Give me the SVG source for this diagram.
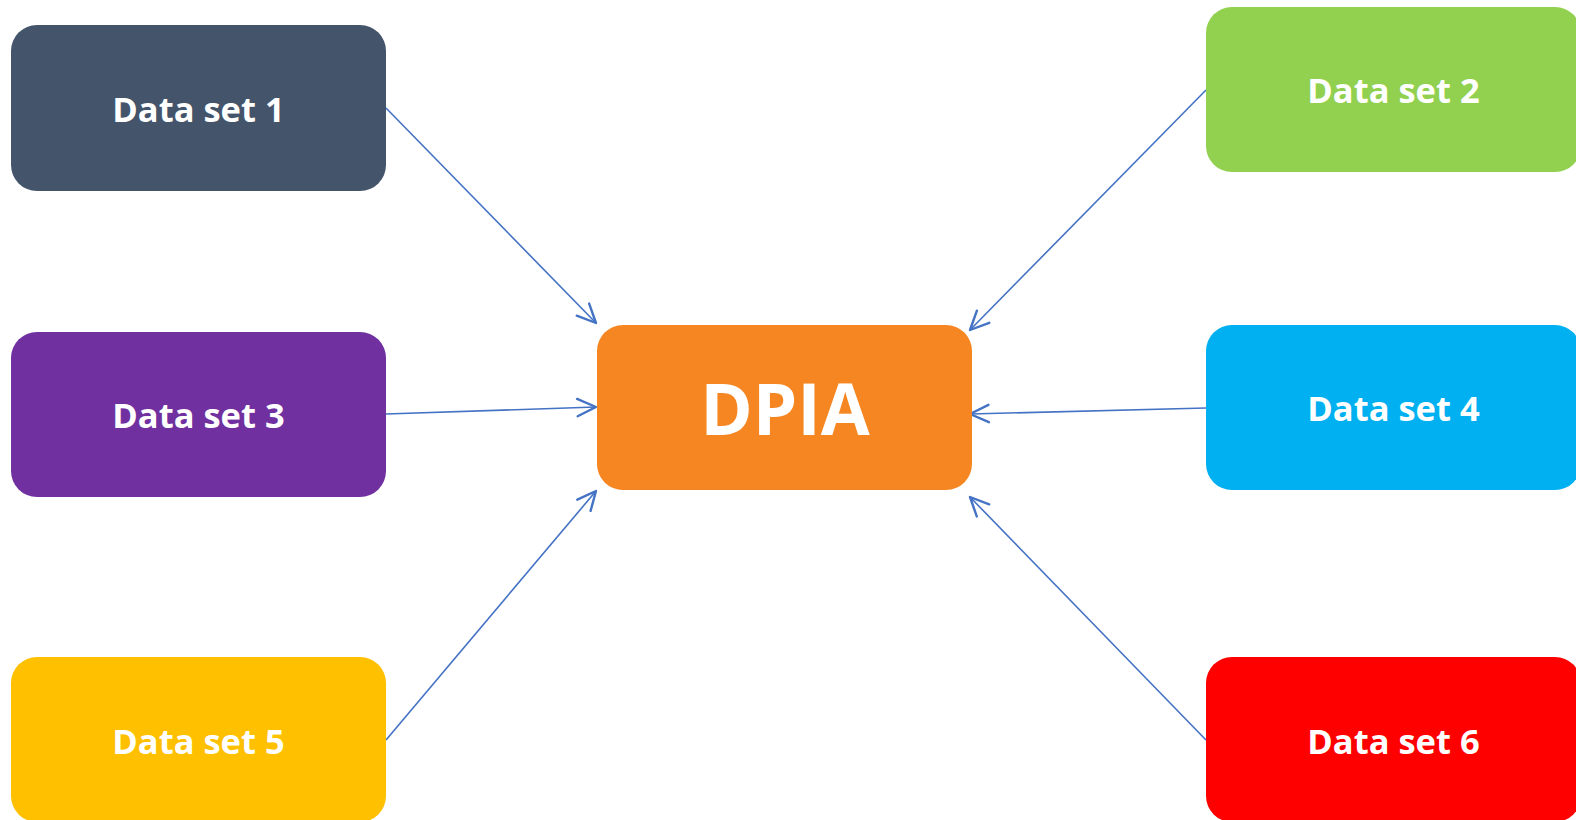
<svg xmlns="http://www.w3.org/2000/svg" width="1576" height="820" viewBox="0 0 1576 820">
<style>
.lbl{font-family:"Open Sans","Liberation Sans",sans-serif;font-weight:bold;fill:#FFFFFF;text-anchor:middle;font-size:34.5px}
.big{font-size:71px}
.conn{stroke:#4472C4;stroke-width:1.6;fill:none;marker-end:url(#arr)}
</style>
<defs>
<marker id="arr" markerUnits="userSpaceOnUse" markerWidth="24" markerHeight="24" refX="16" refY="8" orient="auto" viewBox="0 0 18 16">
<path d="M2,1.5 L16,8 L2,14.5" fill="none" stroke="#4472C4" stroke-width="1.8" stroke-linecap="round" stroke-linejoin="round"/>
</marker>
</defs>
<rect width="1576" height="820" fill="#FFFFFF"/>
<g id="connectors">
<line class="conn" x1="386" y1="108" x2="596" y2="323"/>
<line class="conn" x1="1206" y1="90" x2="970" y2="330"/>
<line class="conn" x1="386" y1="414" x2="596" y2="407"/>
<line class="conn" x1="1206" y1="408" x2="970" y2="414"/>
<line class="conn" x1="386" y1="740" x2="596" y2="491"/>
<line class="conn" x1="1206" y1="740" x2="970" y2="497"/>
</g>
<g id="ds1"><rect x="11" y="25" width="375" height="166" rx="26" fill="#44546A"/><text class="lbl" x="198.5" y="122">Data set 1</text></g>
<g id="ds2"><rect x="1206" y="7" width="375" height="165" rx="26" fill="#92D050"/><text class="lbl" x="1393.5" y="103">Data set 2</text></g>
<g id="ds3"><rect x="11" y="332" width="375" height="165" rx="26" fill="#7030A0"/><text class="lbl" x="198.5" y="428">Data set 3</text></g>
<g id="ds4"><rect x="1206" y="325" width="375" height="165" rx="26" fill="#00B0F0"/><text class="lbl" x="1393.5" y="421">Data set 4</text></g>
<g id="ds5"><rect x="11" y="657" width="375" height="165" rx="26" fill="#FFC000"/><text class="lbl" x="198.5" y="754">Data set 5</text></g>
<g id="ds6"><rect x="1206" y="657" width="375" height="165" rx="26" fill="#FF0000"/><text class="lbl" x="1393.5" y="754">Data set 6</text></g>
<g id="dpia"><rect x="597" y="325" width="375" height="165" rx="26" fill="#F58621"/><text class="lbl big" x="785" y="435">DPIA</text></g>
</svg>
